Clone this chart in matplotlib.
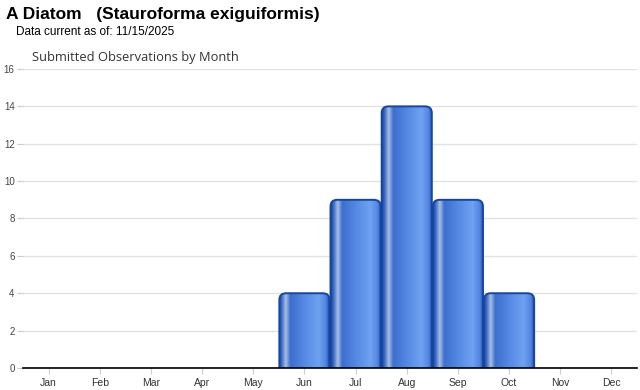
import matplotlib.pyplot as plt
import matplotlib.colors as colors
import numpy as np
from matplotlib.patches import FancyBboxPatch

months = ["Jan", "Feb", "Mar", "Apr", "May", "Jun",
          "Jul", "Aug", "Sep", "Oct", "Nov", "Dec"]
counts = [0, 0, 0, 0, 0, 4, 9, 14, 9, 4, 0, 0]
yticks = [0, 2, 4, 6, 8, 10, 12, 14, 16]

plt.rcParams["font.family"] = ["Liberation Sans", "DejaVu Sans"]

# horizontal shading of the "glass" bars
bar_cmap = colors.LinearSegmentedColormap.from_list(
    "glass",
    [(0.0, "#1a47a8"), (0.05, "#3e6cc4"), (0.13, "#a9bfe2"),
     (0.22, "#3d6fcf"), (0.55, "#5a8ee6"), (0.78, "#6fa2f2"),
     (0.92, "#5286e0"), (1.0, "#1a4aa8")],
)

fig = plt.figure(figsize=(6.4, 3.9), dpi=100)
ax = fig.add_axes([23 / 640, 1 - 368 / 390, 614 / 640, 299 / 390])

x = np.arange(len(months))

# rounding: same pixel radius in both directions
px_x = 614 / 12
px_y = 299 / 16
aspect = px_x / px_y
width = 0.98

for xi, c in zip(x, counts):
    if c <= 0:
        continue
    left = xi - width / 2
    patch = FancyBboxPatch(
        (left, -1), width, c + 1,
        boxstyle="round,pad=0,rounding_size=0.13",
        mutation_aspect=aspect,
        facecolor="none", edgecolor="#1646a0", linewidth=1.4, zorder=4,
    )
    ax.add_patch(patch)
    grad = np.linspace(0, 1, 200).reshape(1, -1)
    im = ax.imshow(grad, cmap=bar_cmap, aspect="auto",
                   extent=(left, left + width, -1, c), zorder=3)
    im.set_clip_path(patch)

ax.set_xlim(-0.5, 11.5)
ax.set_ylim(0, 16)

ax.set_yticks(yticks)
ax.set_xticks(x)
ax.set_xticklabels(months)
ax.grid(axis="y", color="#e2e2e2", linewidth=1)
ax.set_axisbelow(True)
for s in ["top", "right", "left"]:
    ax.spines[s].set_visible(False)
ax.spines["bottom"].set_color("black")
ax.spines["bottom"].set_linewidth(1.2)
ax.spines["bottom"].set_zorder(6)
ax.tick_params(axis="x", length=4, color="#cccccc", labelsize=7.5,
               labelcolor="#333333", pad=3)
ax.tick_params(axis="y", length=4, color="#cccccc", labelsize=7,
               labelcolor="#444444", pad=2)

fig.text(6 / 640, 1 - 15 / 390, "A Diatom   (Stauroforma exiguiformis)",
         fontsize=12.5, fontweight="bold", va="center", ha="left")
fig.text(16 / 640, 1 - 32 / 390, "Data current as of: 11/15/2025",
         fontsize=8.5, va="center", ha="left")
fig.text(32 / 640, 1 - 58 / 390, "Submitted Observations by Month",
         fontsize=9.3, va="center", ha="left", color="#333333",
         family=["Open Sans", "DejaVu Sans"])

fig.savefig("out.png", dpi=100)
